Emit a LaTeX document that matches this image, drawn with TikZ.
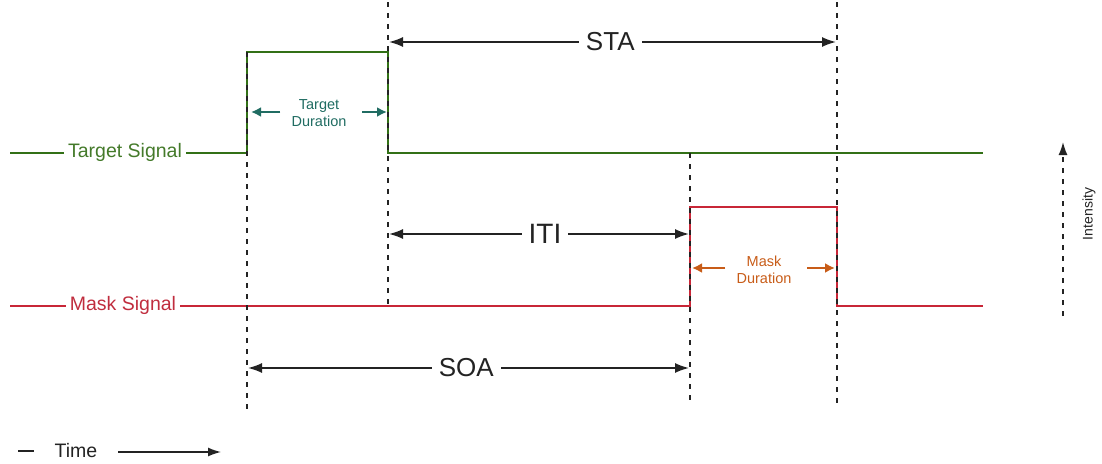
\documentclass[tikz,border=0pt]{standalone}
\usepackage{fontspec}
\setmainfont{Liberation Sans}
\usetikzlibrary{arrows.meta}
\definecolor{tgreen}{RGB}{50,112,22}
\definecolor{tgtext}{RGB}{68,122,42}
\definecolor{mred}{RGB}{200,38,55}
\definecolor{mrtext}{RGB}{192,45,62}
\definecolor{teal}{RGB}{32,108,98}
\definecolor{orng}{RGB}{200,92,24}
\definecolor{ink}{RGB}{35,35,35}
\tikzset{
  tline/.style={draw=tgreen,line width=2.6pt},
  mline/.style={draw=mred,line width=2.6pt},
  guide/.style={draw=ink,line width=1.4pt,dash pattern=on 5pt off 6pt},
  dim/.style={draw=ink,line width=1.6pt,{Latex[length=14pt,width=10pt]}-{Latex[length=14pt,width=10pt]}},
  big/.style={font=\fontsize{26}{28}\selectfont,text=ink,fill=white,inner sep=7pt},
  sig/.style={font=\fontsize{19.5}{21}\selectfont,inner sep=4pt},
  small/.style={font=\fontsize{14.5}{16.5}\selectfont,align=center},
  darr/.style={line width=2pt,-{Latex[length=10pt,width=10pt]}}
}
\begin{document}
\begin{tikzpicture}[x=1pt,y=-1pt]
\useasboundingbox (0,0) rectangle (1102,463);
% corner coordinates
\coordinate (t0) at (10,153);
\coordinate (t1) at (247,153);
\coordinate (t2) at (247,52);
\coordinate (t3) at (388,52);
\coordinate (t4) at (388,153);
\coordinate (t5) at (983,153);
\coordinate (m0) at (10,306);
\coordinate (m1) at (690,306);
\coordinate (m2) at (690,207);
\coordinate (m3) at (837,207);
\coordinate (m4) at (837,306);
\coordinate (m5) at (983,306);
% guide ends
\coordinate (gA1) at (247,52);  \coordinate (gA2) at (247,412);
\coordinate (gB1) at (388,2);   \coordinate (gB2) at (388,306);
\coordinate (gC1) at (690,153); \coordinate (gC2) at (690,405);
\coordinate (gD1) at (837,2);   \coordinate (gD2) at (837,405);
% signal labels
\node[sig,text=tgtext] (tsig) at (125,152) {Target Signal};
\node[sig,text=mrtext] (msig) at (123,305) {Mask Signal};
% signals
\draw[tline] (t0) -- (t0 -| tsig.west);
\draw[tline] (t1 -| tsig.east) -- (t1) -- (t2) -- (t3) -- (t4) -- (t5);
\draw[mline] (m0) -- (m0 -| msig.west);
\draw[mline] (m1 -| msig.east) -- (m1) -- (m2) -- (m3) -- (m4) -- (m5);
% guides
\draw[guide] (gA1) -- (gA2);
\draw[guide] (gB1) -- (gB2);
\draw[guide] (gC1) -- (gC2);
\draw[guide] (gD1) -- (gD2);
% dimension arrows
\coordinate (staL) at (389,42); \coordinate (staR) at (836,42);
\coordinate (itiL) at (389,234); \coordinate (itiR) at (689,234);
\coordinate (soaL) at (248,368); \coordinate (soaR) at (689,368);
\draw[dim] (staL) -- node[big,pos=0.495] (sta) {STA} (staR);
\draw[dim] (itiL) -- node[big,pos=0.52,font=\fontsize{28}{30}\selectfont] (iti) {ITI} (itiR);
\draw[dim] (soaL) -- node[big,pos=0.495] (soa) {SOA} (soaR);
% durations
\node[small,text=teal] (tdur) at (319,113) {Target\\Duration};
\coordinate (tdL) at (251,112); \coordinate (tdR) at (387,112);
\coordinate (tdw) at (280,112); \coordinate (tde) at (362,112);
\draw[darr,draw=teal,fill=teal] (tdw) -- (tdL);
\draw[darr,draw=teal,fill=teal] (tde) -- (tdR);
\node[small,text=orng] (mdur) at (764,270) {Mask\\Duration};
\coordinate (mdL) at (692,268); \coordinate (mdR) at (835,268);
\coordinate (mdw) at (725,268); \coordinate (mde) at (807,268);
\draw[darr,draw=orng,fill=orng] (mdw) -- (mdL);
\draw[darr,draw=orng,fill=orng] (mde) -- (mdR);
% time legend
\node[sig,text=ink] (time) at (76,451) {Time};
\coordinate (td0) at (18,451); \coordinate (td1) at (34,451);
\draw[ink,line width=1.4pt] (td0) -- (td1);
\coordinate (ta0) at (118,452); \coordinate (ta1) at (221,452);
\draw[ink,line width=1.4pt,-{Latex[length=13pt,width=9pt]}] (ta0) -- (ta1);
% intensity legend
\coordinate (ia0) at (1063,316); \coordinate (ia1) at (1063,142);
\draw[ink,line width=1.5pt,dash pattern=on 5pt off 6pt,-{Latex[length=13pt,width=9pt]}] (ia0) -- (ia1);
\node[rotate=90,font=\fontsize{14}{16}\selectfont,text=ink] (inten) at (1089,214) {Intensity};
\end{tikzpicture}
\end{document}
